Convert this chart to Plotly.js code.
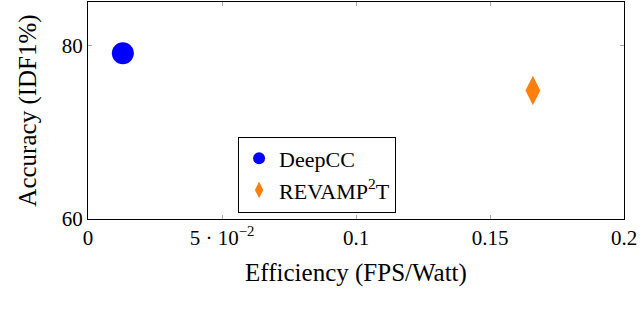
<!DOCTYPE html>
<html>
<head>
<meta charset="utf-8">
<script src="https://cdn.plot.ly/plotly-3.0.1.min.js"></script>
<style>body{margin:0;padding:0;background:#fff;}</style>
</head>
<body>
<div id="chart" style="width:640px;height:322px;"></div>
<script>
var CHART = document.getElementById('chart');

var names = ['DeepCC', 'REVAMP<sup>2</sup>T'];
var efficiency = [0.013, 0.166];
var accuracy = [79.1, 74.8];
var colors = ['#0000ff', '#ff7f0e'];
var symbols = ['circle', 'diamond-tall'];
var sizes = [22, 21];

var xTicks = [0, 0.05, 0.1, 0.15, 0.2];
var xTickText = ['0', '5 \u00b7 10<sup>\u22122</sup>', '0.1', '0.15', '0.2'];
var yTicks = [60, 80];

var data = [];
for (let i = 0; i < names.length; i++) {
    data.push({
        x: [efficiency[i]],
        y: [accuracy[i]],
        name: names[i],
        type: 'scatter',
        mode: 'markers',
        marker: {color: colors[i], symbol: symbols[i], size: sizes[i]}
    });
}

var axisStyle = {
    showline: true,
    linecolor: '#000',
    linewidth: 1,
    mirror: 'ticks',
    ticks: 'inside',
    ticklen: 4,
    tickcolor: '#aaa',
    showgrid: false,
    zeroline: false
};

var layout = {
    width: 640,
    height: 322,
    margin: {l: 88, r: 16, t: 2, b: 103},
    font: {family: '"Liberation Serif", "Times New Roman", serif', size: 21, color: '#000'},
    paper_bgcolor: '#fff',
    plot_bgcolor: '#fff',
    showlegend: true,
    legend: {
        x: 0.28, y: 0.38, xanchor: 'left', yanchor: 'top',
        bordercolor: '#000', borderwidth: 1, bgcolor: '#fff',
        font: {size: 22}, itemsizing: 'constant', tracegroupgap: 0,
        entrywidth: 142
    },
    xaxis: Object.assign({}, axisStyle, {
        range: [0, 0.2],
        tickvals: xTicks,
        ticktext: xTickText,
        title: {text: 'Efficiency (FPS/Watt)', standoff: 14}
    }),
    yaxis: Object.assign({}, axisStyle, {
        range: [60, 85],
        tickvals: yTicks,
        title: {text: 'Accuracy (IDF1%)', standoff: 18}
    })
};

Plotly.newPlot(CHART, data, layout, {displayModeBar: false});
</script>
</body>
</html>
